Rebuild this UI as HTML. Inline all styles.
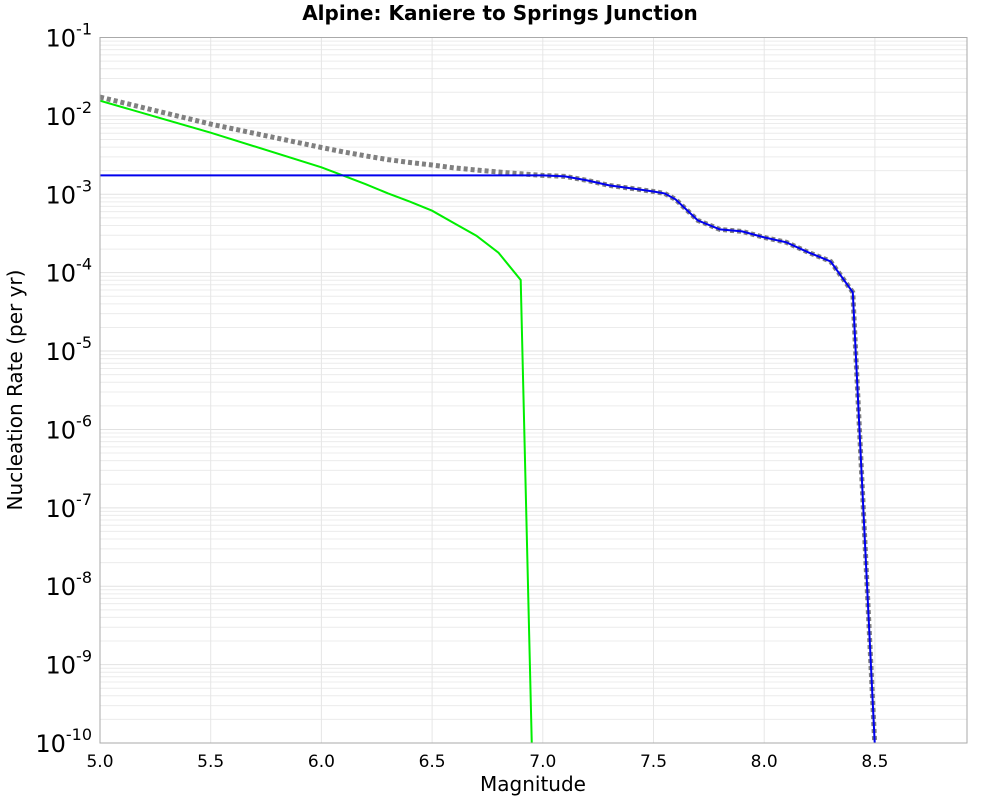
<!DOCTYPE html>
<html><head><meta charset="utf-8"><style>
html,body{margin:0;padding:0;background:#fff;width:1000px;height:800px;overflow:hidden;}
svg{display:block;font-family:"DejaVu Sans","Liberation Sans",sans-serif;}
</style></head><body>
<svg id="chart" width="1000" height="800" xmlns="http://www.w3.org/2000/svg">
<text x="500" y="20" text-anchor="middle" font-size="20" font-weight="bold">Alpine: Kaniere to Springs Junction</text>
<g id="grid"></g>
<g id="series"></g>
<rect x="100" y="37.5" width="867" height="705.5" fill="none" stroke="#aaa" stroke-width="1"/>
<g id="axes"></g>
<text x="533" y="791" text-anchor="middle" font-size="20">Magnitude</text>
<text transform="translate(22,390) rotate(-90)" text-anchor="middle" font-size="20">Nucleation Rate (per yr)</text>
</svg>
<script>
const blueMags=[5.0,7.0,7.1,7.2,7.3,7.4,7.5,7.55,7.6,7.7,7.8,7.9,8.0,8.1,8.2,8.3,8.4,8.5];
const blueLog=[-2.759,-2.759,-2.772,-2.823,-2.887,-2.925,-2.964,-2.989,-3.065,-3.333,-3.448,-3.473,-3.55,-3.613,-3.741,-3.856,-4.251,-10.05];
const greenMags=[5.0,5.5,6.0,6.1,6.2,6.3,6.4,6.5,6.6,6.7,6.8,6.9,7.0];
const greenLog=[-1.806,-2.214,-2.656,-2.763,-2.872,-2.988,-3.095,-3.209,-3.37,-3.528,-3.745,-4.094,-15.9];
const xTicks=[5.0,5.5,6.0,6.5,7.0,7.5,8.0,8.5];
const yDecades=[-1,-2,-3,-4,-5,-6,-7,-8,-9,-10];
const NS="http://www.w3.org/2000/svg";
const X0=100,X1=967,Y0=37.5,Y1=743;
const xMin=5.0,xMax=8.916,yTop=-1,yBot=-10;
function sx(m){return X0+(m-xMin)/(xMax-xMin)*(X1-X0);}
function sy(l){return Y0+(yTop-l)/(yTop-yBot)*(Y1-Y0);}
function mk(tag,attrs,parent){const e=document.createElementNS(NS,tag);for(const k in attrs)e.setAttribute(k,attrs[k]);parent.appendChild(e);return e;}
const grid=document.getElementById('grid'),axes=document.getElementById('axes'),ser=document.getElementById('series');
for(const d of yDecades){ if(d===-1) continue;
  for(let k=1;k<=9;k++){const l=d+Math.log10(k); if(l>yTop) continue;
    const g=mk('line',{x1:X0,x2:X1,y1:sy(l),y2:sy(l),stroke:k===1?'#e2e2e2':'#ececec','stroke-width':1},grid);
    
    }}
for(const t of xTicks){
  const g=mk('line',{x1:sx(t),x2:sx(t),y1:Y0,y2:Y1,stroke:'#e6e6e6','stroke-width':1},grid);
  
  
  const tx=mk('text',{x:sx(t),y:767,'text-anchor':'middle','font-size':17},axes);
  tx.textContent=t.toFixed(1);
  
  
}
for(const d of yDecades){
  const tx=mk('text',{x:92,y:sy(d)+9,'text-anchor':'end','font-size':24},axes);
  
  
  const a=mk('tspan',{},tx);a.textContent='10';
  const b=mk('tspan',{dy:-12,'font-size':16},tx);b.textContent=String(d);
}
function interp(ms,ls,m){ if(m<ms[0]) return -99; for(let i=0;i<ms.length-1;i++){ if(m>=ms[i]&&m<=ms[i+1]){const f=(m-ms[i])/(ms[i+1]-ms[i]);return ls[i]+f*(ls[i+1]-ls[i]);}} return -99;}
const allM=[...new Set([...blueMags,...greenMags])].sort((a,b)=>a-b);
const totPts=allM.map(m=>{const v=Math.pow(10,interp(blueMags,blueLog,m))+Math.pow(10,interp(greenMags,greenLog,m));return [m,Math.log10(v)];});
function path(pts){return pts.map((p,i)=>(i?'L':'M')+sx(p[0]).toFixed(1)+','+sy(p[1]).toFixed(1)).join(' ');}
const clip=mk('clipPath',{id:'pc'},ser);mk('rect',{x:X0,y:Y0,width:X1-X0,height:Y1-Y0},clip);
const gp=mk('path',{d:path(totPts),fill:'none',stroke:'#808080','stroke-width':5,'stroke-dasharray':'4,3','clip-path':'url(#pc)'},ser);


const grp=mk('path',{d:path(greenMags.map((m,i)=>[m,greenLog[i]])),fill:'none',stroke:'#00ee00','stroke-width':2,'clip-path':'url(#pc)'},ser);


const bp=mk('path',{d:path(blueMags.map((m,i)=>[m,blueLog[i]])),fill:'none',stroke:'#0000ee','stroke-width':2,'clip-path':'url(#pc)'},ser);


</script>
</body></html>
